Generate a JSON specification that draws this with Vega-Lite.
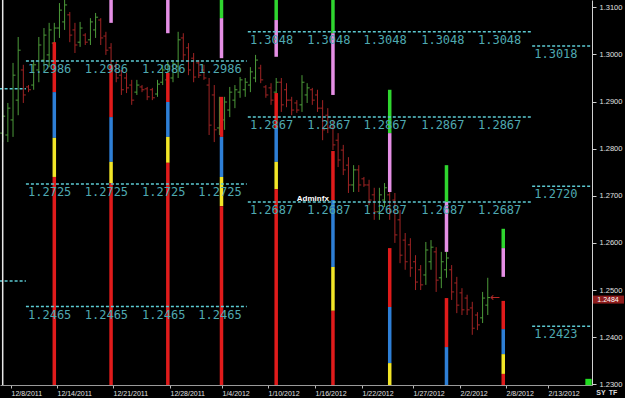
{
 "$schema": "https://vega.github.io/schema/vega-lite/v6.json",
 "width": 592, "height": 385,
 "autosize": "none",
 "padding": {"left": 0, "top": 0, "right": 33, "bottom": 13},
 "background": "#000000",
 "config": {"view": {"stroke": null}, "font": "Liberation Sans"},
 "datasets": {
  "bars": [
   {"i":0,"o":1.2833,"h":1.2882,"l":1.2814,"c":1.2869,"d":"up"},
   {"i":1,"o":1.2829,"h":1.2897,"l":1.2814,"c":1.2886,"d":"up"},
   {"i":2,"o":1.2861,"h":1.2982,"l":1.2825,"c":1.2956,"d":"up"},
   {"i":3,"o":1.2903,"h":1.3037,"l":1.2871,"c":1.3009,"d":"up"},
   {"i":4,"o":1.2967,"h":1.2978,"l":1.2897,"c":1.2914,"d":"down"},
   {"i":5,"o":1.2931,"h":1.2935,"l":1.2920,"c":1.2925,"d":"down"},
   {"i":6,"o":1.2935,"h":1.2988,"l":1.2925,"c":1.2978,"d":"up"},
   {"i":7,"o":1.2967,"h":1.3037,"l":1.2941,"c":1.3020,"d":"up"},
   {"i":8,"o":1.2988,"h":1.3056,"l":1.2963,"c":1.3041,"d":"up"},
   {"i":9,"o":1.2999,"h":1.3067,"l":1.2973,"c":1.3052,"d":"up"},
   {"i":10,"o":1.3024,"h":1.3067,"l":1.3009,"c":1.3056,"d":"up"},
   {"i":11,"o":1.3056,"h":1.3109,"l":1.3035,"c":1.3094,"d":"up"},
   {"i":12,"o":1.3069,"h":1.3120,"l":1.3052,"c":1.3105,"d":"up"},
   {"i":13,"o":1.3084,"h":1.3090,"l":1.3026,"c":1.3041,"d":"down"},
   {"i":14,"o":1.3052,"h":1.3067,"l":1.3003,"c":1.3020,"d":"down"},
   {"i":15,"o":1.3026,"h":1.3069,"l":1.3016,"c":1.3056,"d":"up"},
   {"i":16,"o":1.3041,"h":1.3045,"l":1.3020,"c":1.3026,"d":"down"},
   {"i":17,"o":1.3031,"h":1.3077,"l":1.3020,"c":1.3069,"d":"up"},
   {"i":18,"o":1.3052,"h":1.3088,"l":1.3035,"c":1.3079,"d":"up"},
   {"i":19,"o":1.3073,"h":1.3077,"l":1.3020,"c":1.3035,"d":"down"},
   {"i":20,"o":1.3039,"h":1.3048,"l":1.2999,"c":1.3009,"d":"down"},
   {"i":21,"o":1.3014,"h":1.3024,"l":1.2963,"c":1.2971,"d":"down"},
   {"i":22,"o":1.2975,"h":1.2984,"l":1.2941,"c":1.2950,"d":"down"},
   {"i":23,"o":1.2956,"h":1.2967,"l":1.2914,"c":1.2925,"d":"down"},
   {"i":24,"o":1.2950,"h":1.2961,"l":1.2918,"c":1.2929,"d":"down"},
   {"i":25,"o":1.2935,"h":1.2946,"l":1.2893,"c":1.2903,"d":"down"},
   {"i":26,"o":1.2920,"h":1.2946,"l":1.2914,"c":1.2935,"d":"up"},
   {"i":27,"o":1.2931,"h":1.2935,"l":1.2920,"c":1.2925,"d":"down"},
   {"i":28,"o":1.2927,"h":1.2931,"l":1.2903,"c":1.2910,"d":"down"},
   {"i":29,"o":1.2925,"h":1.2929,"l":1.2903,"c":1.2908,"d":"down"},
   {"i":30,"o":1.2916,"h":1.2946,"l":1.2910,"c":1.2937,"d":"up"},
   {"i":31,"o":1.2941,"h":1.2978,"l":1.2935,"c":1.2967,"d":"up"},
   {"i":32,"o":1.2946,"h":1.2984,"l":1.2935,"c":1.2975,"d":"up"},
   {"i":33,"o":1.2950,"h":1.2988,"l":1.2941,"c":1.2980,"d":"up"},
   {"i":34,"o":1.2975,"h":1.3048,"l":1.2950,"c":1.3031,"d":"up"},
   {"i":35,"o":1.3035,"h":1.3045,"l":1.2988,"c":1.2999,"d":"down"},
   {"i":36,"o":1.3014,"h":1.3024,"l":1.2956,"c":1.2967,"d":"down"},
   {"i":37,"o":1.2992,"h":1.3003,"l":1.2941,"c":1.2952,"d":"down"},
   {"i":38,"o":1.2982,"h":1.2988,"l":1.2950,"c":1.2956,"d":"down"},
   {"i":39,"o":1.2967,"h":1.2978,"l":1.2946,"c":1.2950,"d":"down"},
   {"i":40,"o":1.2935,"h":1.2950,"l":1.2829,"c":1.2850,"d":"down"},
   {"i":41,"o":1.2914,"h":1.2935,"l":1.2814,"c":1.2840,"d":"down"},
   {"i":42,"o":1.2844,"h":1.2910,"l":1.2829,"c":1.2893,"d":"up"},
   {"i":43,"o":1.2861,"h":1.2910,"l":1.2840,"c":1.2899,"d":"up"},
   {"i":44,"o":1.2882,"h":1.2931,"l":1.2867,"c":1.2920,"d":"up"},
   {"i":45,"o":1.2903,"h":1.2935,"l":1.2886,"c":1.2925,"d":"up"},
   {"i":46,"o":1.2920,"h":1.2952,"l":1.2908,"c":1.2946,"d":"up"},
   {"i":47,"o":1.2925,"h":1.2950,"l":1.2910,"c":1.2941,"d":"up"},
   {"i":48,"o":1.2935,"h":1.2973,"l":1.2920,"c":1.2963,"d":"up"},
   {"i":49,"o":1.2950,"h":1.2999,"l":1.2941,"c":1.2988,"d":"up"},
   {"i":50,"o":1.2971,"h":1.2978,"l":1.2939,"c":1.2946,"d":"down"},
   {"i":51,"o":1.2931,"h":1.2935,"l":1.2908,"c":1.2914,"d":"down"},
   {"i":52,"o":1.2929,"h":1.2939,"l":1.2893,"c":1.2903,"d":"down"},
   {"i":53,"o":1.2920,"h":1.2950,"l":1.2914,"c":1.2941,"d":"up"},
   {"i":54,"o":1.2941,"h":1.2950,"l":1.2878,"c":1.2893,"d":"down"},
   {"i":55,"o":1.2925,"h":1.2939,"l":1.2888,"c":1.2903,"d":"down"},
   {"i":56,"o":1.2903,"h":1.2910,"l":1.2871,"c":1.2882,"d":"down"},
   {"i":57,"o":1.2897,"h":1.2903,"l":1.2876,"c":1.2882,"d":"down"},
   {"i":58,"o":1.2893,"h":1.2956,"l":1.2878,"c":1.2941,"d":"up"},
   {"i":59,"o":1.2914,"h":1.2939,"l":1.2897,"c":1.2929,"d":"up"},
   {"i":60,"o":1.2925,"h":1.2929,"l":1.2893,"c":1.2903,"d":"down"},
   {"i":61,"o":1.2914,"h":1.2925,"l":1.2878,"c":1.2886,"d":"down"},
   {"i":62,"o":1.2886,"h":1.2903,"l":1.2818,"c":1.2840,"d":"down"},
   {"i":63,"o":1.2871,"h":1.2886,"l":1.2833,"c":1.2844,"d":"down"},
   {"i":64,"o":1.2844,"h":1.2861,"l":1.2797,"c":1.2808,"d":"down"},
   {"i":65,"o":1.2818,"h":1.2833,"l":1.2761,"c":1.2776,"d":"down"},
   {"i":66,"o":1.2797,"h":1.2808,"l":1.2744,"c":1.2755,"d":"down"},
   {"i":67,"o":1.2765,"h":1.2782,"l":1.2706,"c":1.2723,"d":"down"},
   {"i":68,"o":1.2723,"h":1.2765,"l":1.2708,"c":1.2755,"d":"up"},
   {"i":69,"o":1.2755,"h":1.2765,"l":1.2708,"c":1.2723,"d":"down"},
   {"i":70,"o":1.2736,"h":1.2740,"l":1.2719,"c":1.2723,"d":"down"},
   {"i":71,"o":1.2723,"h":1.2734,"l":1.2680,"c":1.2691,"d":"down"},
   {"i":72,"o":1.2702,"h":1.2717,"l":1.2649,"c":1.2666,"d":"down"},
   {"i":73,"o":1.2666,"h":1.2717,"l":1.2649,"c":1.2702,"d":"up"},
   {"i":74,"o":1.2691,"h":1.2727,"l":1.2676,"c":1.2717,"d":"up"},
   {"i":75,"o":1.2702,"h":1.2712,"l":1.2649,"c":1.2666,"d":"down"},
   {"i":76,"o":1.2691,"h":1.2706,"l":1.2600,"c":1.2617,"d":"down"},
   {"i":77,"o":1.2649,"h":1.2670,"l":1.2557,"c":1.2574,"d":"down"},
   {"i":78,"o":1.2606,"h":1.2621,"l":1.2543,"c":1.2560,"d":"down"},
   {"i":79,"o":1.2596,"h":1.2610,"l":1.2528,"c":1.2547,"d":"down"},
   {"i":80,"o":1.2560,"h":1.2574,"l":1.2500,"c":1.2517,"d":"down"},
   {"i":81,"o":1.2543,"h":1.2553,"l":1.2500,"c":1.2511,"d":"down"},
   {"i":82,"o":1.2532,"h":1.2602,"l":1.2511,"c":1.2585,"d":"up"},
   {"i":83,"o":1.2560,"h":1.2606,"l":1.2543,"c":1.2591,"d":"up"},
   {"i":84,"o":1.2581,"h":1.2591,"l":1.2496,"c":1.2521,"d":"down"},
   {"i":85,"o":1.2526,"h":1.2581,"l":1.2504,"c":1.2560,"d":"up"},
   {"i":86,"o":1.2543,"h":1.2581,"l":1.2526,"c":1.2568,"d":"up"},
   {"i":87,"o":1.2543,"h":1.2553,"l":1.2479,"c":1.2496,"d":"down"},
   {"i":88,"o":1.2515,"h":1.2528,"l":1.2451,"c":1.2468,"d":"down"},
   {"i":89,"o":1.2494,"h":1.2504,"l":1.2447,"c":1.2458,"d":"down"},
   {"i":90,"o":1.2483,"h":1.2490,"l":1.2447,"c":1.2458,"d":"down"},
   {"i":91,"o":1.2462,"h":1.2475,"l":1.2405,"c":1.2419,"d":"down"},
   {"i":92,"o":1.2447,"h":1.2453,"l":1.2415,"c":1.2426,"d":"down"},
   {"i":93,"o":1.2441,"h":1.2496,"l":1.2430,"c":1.2483,"d":"up"},
   {"i":94,"o":1.2468,"h":1.2526,"l":1.2447,"c":1.2484,"d":"up"}
  ],
  "ind": [
   {"i":10,"a":1.3026,"b":1.2920,"k":"red"},
   {"i":10,"a":1.2920,"b":1.2823,"k":"blue"},
   {"i":10,"a":1.2823,"b":1.2740,"k":"yellow"},
   {"i":10,"a":1.2740,"b":1.2290,"k":"red"},
   {"i":21,"a":1.3125,"b":1.3067,"k":"pink"},
   {"i":21,"a":1.2978,"b":1.2867,"k":"red"},
   {"i":21,"a":1.2867,"b":1.2772,"k":"blue"},
   {"i":21,"a":1.2772,"b":1.2727,"k":"yellow"},
   {"i":21,"a":1.2727,"b":1.2290,"k":"red"},
   {"i":32,"a":1.3125,"b":1.3045,"k":"pink"},
   {"i":32,"a":1.2961,"b":1.2899,"k":"red"},
   {"i":32,"a":1.2899,"b":1.2825,"k":"blue"},
   {"i":32,"a":1.2825,"b":1.2770,"k":"yellow"},
   {"i":32,"a":1.2770,"b":1.2290,"k":"red"},
   {"i":42.4,"a":1.3125,"b":1.3077,"k":"green"},
   {"i":42.4,"a":1.3077,"b":1.2992,"k":"pink"},
   {"i":42.4,"a":1.2910,"b":1.2825,"k":"red"},
   {"i":42.4,"a":1.2825,"b":1.2740,"k":"blue"},
   {"i":42.4,"a":1.2740,"b":1.2678,"k":"yellow"},
   {"i":42.4,"a":1.2678,"b":1.2290,"k":"red"},
   {"i":53,"a":1.3125,"b":1.3073,"k":"green"},
   {"i":53,"a":1.3073,"b":1.2995,"k":"pink"},
   {"i":53,"a":1.2918,"b":1.2844,"k":"red"},
   {"i":53,"a":1.2844,"b":1.2772,"k":"blue"},
   {"i":53,"a":1.2772,"b":1.2714,"k":"yellow"},
   {"i":53,"a":1.2714,"b":1.2290,"k":"red"},
   {"i":64,"a":1.3125,"b":1.3045,"k":"green"},
   {"i":64,"a":1.3045,"b":1.2914,"k":"pink"},
   {"i":64,"a":1.2795,"b":1.2691,"k":"red"},
   {"i":64,"a":1.2691,"b":1.2549,"k":"blue"},
   {"i":64,"a":1.2549,"b":1.2456,"k":"yellow"},
   {"i":64,"a":1.2456,"b":1.2290,"k":"red"},
   {"i":75,"a":1.2925,"b":1.2833,"k":"green"},
   {"i":75,"a":1.2833,"b":1.2708,"k":"pink"},
   {"i":75,"a":1.2589,"b":1.2464,"k":"red"},
   {"i":75,"a":1.2464,"b":1.2345,"k":"blue"},
   {"i":75,"a":1.2345,"b":1.2290,"k":"yellow"},
   {"i":86,"a":1.2765,"b":1.2687,"k":"green"},
   {"i":86,"a":1.2687,"b":1.2581,"k":"pink"},
   {"i":86,"a":1.2483,"b":1.2379,"k":"red"},
   {"i":86,"a":1.2379,"b":1.2290,"k":"blue"},
   {"i":97,"a":1.2630,"b":1.2589,"k":"green"},
   {"i":97,"a":1.2589,"b":1.2528,"k":"pink"},
   {"i":97,"a":1.2477,"b":1.2417,"k":"red"},
   {"i":97,"a":1.2417,"b":1.2364,"k":"blue"},
   {"i":97,"a":1.2364,"b":1.2322,"k":"yellow"},
   {"i":97,"a":1.2322,"b":1.2290,"k":"red"}
  ],
  "levels": [
   {"a":-0.6,"b":4.5,"v":1.2927},
   {"a":-0.6,"b":4.5,"v":1.2519},
   {"a":4.5,"b":47.3,"v":1.2986},
   {"a":4.5,"b":47.3,"v":1.2725},
   {"a":4.5,"b":47.3,"v":1.2465},
   {"a":47.5,"b":102.6,"v":1.3048},
   {"a":47.5,"b":102.6,"v":1.2867},
   {"a":47.5,"b":102.6,"v":1.2687},
   {"a":102.6,"b":114.3,"v":1.3018},
   {"a":102.6,"b":114.3,"v":1.2720},
   {"a":102.6,"b":114.3,"v":1.2423}
  ],
  "labels": [
   {"i":4.9,"v":1.2986},{"i":15.9,"v":1.2986},{"i":27.0,"v":1.2986},{"i":37.9,"v":1.2986},
   {"i":4.9,"v":1.2725},{"i":15.9,"v":1.2725},{"i":27.0,"v":1.2725},{"i":37.9,"v":1.2725},
   {"i":4.9,"v":1.2465},{"i":15.9,"v":1.2465},{"i":27.0,"v":1.2465},{"i":37.9,"v":1.2465},
   {"i":47.9,"v":1.3048},{"i":59.0,"v":1.3048},{"i":69.9,"v":1.3048},{"i":81.1,"v":1.3048},{"i":92.1,"v":1.3048},
   {"i":47.9,"v":1.2867},{"i":59.0,"v":1.2867},{"i":69.9,"v":1.2867},{"i":81.1,"v":1.2867},{"i":92.1,"v":1.2867},
   {"i":47.9,"v":1.2687},{"i":59.0,"v":1.2687},{"i":69.9,"v":1.2687},{"i":81.1,"v":1.2687},{"i":92.1,"v":1.2687},
   {"i":103.0,"v":1.3018},{"i":103.0,"v":1.2720},{"i":103.0,"v":1.2423}
  ]
 },
 "resolve": {"scale": {"color": "independent"}},
 "layer": [
  {
   "data": {"name": "bars"},
   "mark": {"type": "rule", "strokeWidth": 1, "clip": true},
   "encoding": {
    "x": {"field": "i", "type": "quantitative",
     "scale": {"domain": [-0.523, 114.2], "nice": false, "zero": false},
     "axis": {"values": [1.61,10.52,21.38,32.42,42.5,51.41,60.52,69.63,79.52,88.62,97.54,105.68],
      "labelExpr": "['12/8/2011','12/14/2011','12/21/2011','12/28/2011','1/4/2012','1/10/2012','1/16/2012','1/22/2012','1/27/2012','2/2/2012','2/8/2012','2/13/2012'][indexof([1.61,10.52,21.38,32.42,42.5,51.41,60.52,69.63,79.52,88.62,97.54,105.68], datum.value)]",
      "title": null, "grid": false, "domainColor": "#9a9a9a", "tickColor": "#bbbbbb", "tickSize": 3,
      "labelColor": "#e0e0e0", "labelFontSize": 7, "labelAlign": "left", "labelPadding": 1,
      "labelFlush": false, "labelOverlap": false, "labelBound": false}},
    "y": {"field": "h", "type": "quantitative",
     "scale": {"domain": [1.22985, 1.31155], "nice": false, "zero": false},
     "axis": {"orient": "right", "values": [1.23,1.24,1.25,1.26,1.27,1.28,1.29,1.30,1.31], "format": ".4f",
      "title": null, "grid": false, "domainColor": "#d0d0d0", "tickColor": "#d0d0d0", "tickSize": 4,
      "labelColor": "#e0e0e0", "labelFontSize": 7.5, "labelPadding": 3}},
    "y2": {"field": "l"},
    "color": {"field": "d", "type": "nominal", "scale": {"domain": ["up", "down"], "range": ["#4c9a3a", "#a02424"]}, "legend": null}
   }
  },
  {
   "data": {"name": "bars"},
   "mark": {"type": "rule", "strokeWidth": 1, "xOffset": -2.5, "x2Offset": 0, "clip": true},
   "encoding": {
    "x": {"field": "i", "type": "quantitative"},
    "x2": {"field": "i"},
    "y": {"field": "o", "type": "quantitative"},
    "color": {"field": "d", "type": "nominal", "scale": {"domain": ["up", "down"], "range": ["#4c9a3a", "#a02424"]}, "legend": null}
   }
  },
  {
   "data": {"name": "bars"},
   "mark": {"type": "rule", "strokeWidth": 1, "xOffset": 0, "x2Offset": 2.5, "clip": true},
   "encoding": {
    "x": {"field": "i", "type": "quantitative"},
    "x2": {"field": "i"},
    "y": {"field": "c", "type": "quantitative"},
    "color": {"field": "d", "type": "nominal", "scale": {"domain": ["up", "down"], "range": ["#4c9a3a", "#a02424"]}, "legend": null}
   }
  },
  {
   "data": {"name": "ind"},
   "mark": {"type": "rule", "strokeWidth": 3.5, "strokeCap": "butt", "clip": true},
   "encoding": {
    "x": {"field": "i", "type": "quantitative"},
    "y": {"field": "a", "type": "quantitative"},
    "y2": {"field": "b"},
    "color": {"field": "k", "type": "nominal", "scale": {"domain": ["red", "blue", "yellow", "green", "pink"], "range": ["#e01b1b", "#2e7fd6", "#f2e628", "#2fd62f", "#e58fe5"]}, "legend": null}
   }
  },
  {
   "data": {"name": "levels"},
   "mark": {"type": "rule", "strokeWidth": 1.5, "strokeDash": [3, 2], "color": "#5ccad2", "clip": true},
   "encoding": {
    "x": {"field": "a", "type": "quantitative"},
    "x2": {"field": "b"},
    "y": {"field": "v", "type": "quantitative"}
   }
  },
  {
   "data": {"name": "labels"},
   "mark": {"type": "text", "align": "left", "baseline": "middle", "dy": 8, "font": "DejaVu Sans Mono", "fontSize": 12, "color": "#4fa9b1"},
   "encoding": {
    "x": {"field": "i", "type": "quantitative"},
    "y": {"field": "v", "type": "quantitative"},
    "text": {"field": "v", "type": "quantitative", "format": ".4f"}
   }
  },
  {
   "data": {"values": [{"i": 0}]},
   "mark": {"type": "rule", "strokeWidth": 1.5, "color": "#e8e8e8"},
   "encoding": {"x": {"field": "i", "type": "quantitative"}}
  },
  {
   "data": {"values": [{"i": 60.1, "v": 1.2694, "t": "Adminfx"}]},
   "mark": {"type": "text", "align": "center", "baseline": "middle", "fontWeight": "bold", "fontSize": 8, "color": "#ffffff"},
   "encoding": {
    "x": {"field": "i", "type": "quantitative"},
    "y": {"field": "v", "type": "quantitative"},
    "text": {"field": "t"}
   }
  },
  {
   "data": {"values": [{"i": 95.4, "v": 1.2486, "t": "←"}]},
   "mark": {"type": "text", "align": "center", "baseline": "middle", "fontSize": 12, "font": "DejaVu Sans", "color": "#b52a2a"},
   "encoding": {
    "x": {"field": "i", "type": "quantitative"},
    "y": {"field": "v", "type": "quantitative"},
    "text": {"field": "t"}
   }
  },
  {
   "data": {"values": [{"v": 1.2484}]},
   "mark": {"type": "rect", "color": "#8e1c1c", "xOffset": 1, "x2Offset": 32, "yOffset": -2, "y2Offset": 6},
   "encoding": {
    "x": {"value": "width"},
    "x2": {"value": "width"},
    "y": {"field": "v", "type": "quantitative"},
    "y2": {"field": "v"}
   }
  },
  {
   "data": {"values": [{"v": 1.2484}]},
   "mark": {"type": "text", "align": "center", "baseline": "middle", "dx": 16, "dy": 2, "fontSize": 7, "color": "#ffffff"},
   "encoding": {
    "x": {"value": "width"},
    "y": {"field": "v", "type": "quantitative"},
    "text": {"field": "v", "type": "quantitative", "format": ".4f"}
   }
  },
  {
   "data": {"values": [{"k": 1}]},
   "mark": {"type": "square", "filled": true, "size": 40, "color": "#22dd22", "opacity": 1, "xOffset": -3.5, "yOffset": -3},
   "encoding": {
    "x": {"value": "width"},
    "y": {"value": "height"}
   }
  },
  {
   "data": {"values": [{"t": "SY"}]},
   "mark": {"type": "text", "align": "center", "baseline": "middle", "dx": 9, "dy": 8, "fontSize": 7, "fontWeight": "bold", "color": "#dddddd"},
   "encoding": {
    "x": {"value": "width"},
    "y": {"value": "height"},
    "text": {"field": "t"}
   }
  },
  {
   "data": {"values": [{"t": "TF"}]},
   "mark": {"type": "text", "align": "center", "baseline": "middle", "dx": 21, "dy": 8, "fontSize": 7, "fontWeight": "bold", "color": "#dddddd"},
   "encoding": {
    "x": {"value": "width"},
    "y": {"value": "height"},
    "text": {"field": "t"}
   }
  }
 ]
}
